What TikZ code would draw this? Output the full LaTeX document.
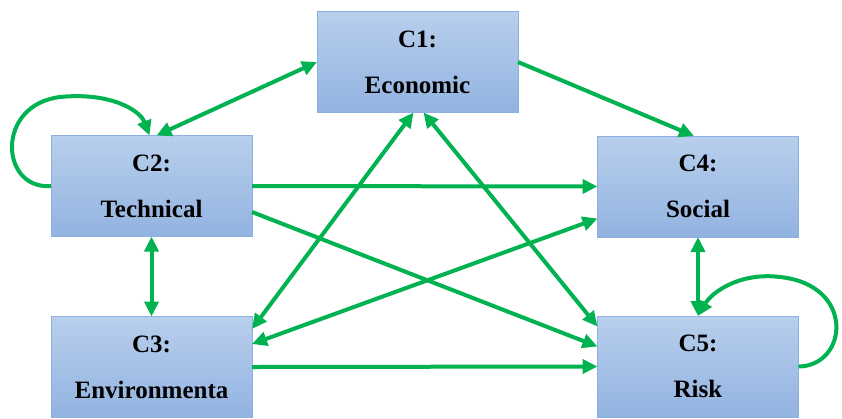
\documentclass[tikz,border=0pt]{standalone}
\usepackage{fontspec}
\setmainfont{Liberation Serif}
\usetikzlibrary{arrows.meta}
\definecolor{boxtop}{RGB}{184,207,237}
\definecolor{boxbot}{RGB}{146,179,224}
\definecolor{boxline}{RGB}{140,176,224}
\definecolor{linkgreen}{RGB}{0,178,80}
\begin{document}
\begin{tikzpicture}[x=1pt, y=-1pt,
    crit/.style = {minimum width=201pt, minimum height=101pt, inner sep=0pt, outer sep=0pt,
                   draw=boxline, line width=0.8pt, top color=boxtop, bottom color=boxbot,
                   align=center, font=\fontsize{25}{46}\selectfont\bfseries},
    link/.style = {draw=linkgreen, line width=4pt},
    >={Triangle[length=15pt, width=14pt]}]
  \useasboundingbox (0,0) rectangle (842,418);
  %%% criteria %%%
  \node[crit] (c1) at (417.5,62) {C1:\\Economic};
  \node[crit] (c2) at (151.5,186) {C2:\\Technical};
  \node[crit] (c3) at (151.5,367) {C3:\\Environmenta};
  \node[crit] (c4) at (698,186.5) {C4:\\Social};
  \node[crit] (c5) at (698,366.5) {C5:\\Risk};

  %%% links %%%
  % from C1
  \draw[link,<->] ([xshift=5pt]c2.north) -- (c1.west);
  \draw[link,->] (c1.east) -- ([xshift=-4pt]c4.north);
  \draw[link,<->] ([xshift=6pt]c1.south) -- ([yshift=40pt]c5.west);
  \draw[link,<->] ([xshift=-4pt]c1.south) -- ([yshift=38pt]c3.east);
  % from C2
  \draw[link,->] (c2.east) -- (c4.west);
  \draw[link,->] ([yshift=-26pt]c2.east) -- ([yshift=20pt]c5.west);
  \draw[link,<->] (c2.south) -- (c3.north);
  % from C3
  \draw[link,<->] ([yshift=23pt]c3.east) -- ([yshift=-32pt]c4.west);
  \draw[link,->] (c3.east) -- (c5.west);
  % from C4
  \draw[link,<->] (c4.south) -- (c5.north);
  % self loops
  \draw[link,->] (c2.west) .. controls (0,190) and (-5,105) .. (60,97)
    .. controls (110,92) and (140,110) .. ([xshift=-2pt]c2.north);
  \draw[link,->] (c5.east) .. controls (848,366) and (856,285) .. (780,277)
    .. controls (740,272) and (712,292) .. (c5.north);
\end{tikzpicture}
\end{document}
